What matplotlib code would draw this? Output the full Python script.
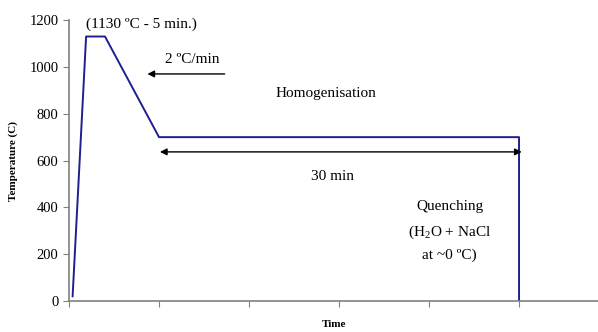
import matplotlib
matplotlib.use("Agg")
import matplotlib.pyplot as plt

plt.rcParams['font.family'] = ['Liberation Serif', 'DejaVu Serif']
plt.rcParams['mathtext.fontset'] = 'custom'
plt.rcParams['mathtext.rm'] = 'Liberation Serif'

# heat treatment profile (time in arbitrary units, temperature in C)
time = [0.04, 0.19, 0.40, 1.0, 5.0, 5.0]
temp = [20, 1130, 1130, 700, 700, 0]

y_ticks = [0, 200, 400, 600, 800, 1000, 1200]
x_ticks = [0, 1, 2, 3, 4, 5]

fig = plt.figure(figsize=(5.98, 3.32), dpi=100)
ax = fig.add_axes([0.1154, 0.0934, 0.885, 0.846])

ax.plot(time, temp, color='#1f1f8f', lw=1.4)

ax.set_xlim(0, 5.88)
ax.set_ylim(0, 1200)
ax.set_yticks(y_ticks)
ax.set_xticks(x_ticks)
ax.set_xticklabels([])
for s in ['top', 'right']:
    ax.spines[s].set_visible(False)
for s in ['left', 'bottom']:
    ax.spines[s].set_color('#808080')
    ax.spines[s].set_linewidth(1.2)
ax.tick_params(colors='#808080', labelcolor='black', labelsize=10.5, length=4)

ax.set_ylabel('Temperature (C)', fontsize=8, fontweight='bold', labelpad=8)
ax.set_xlabel('Time', fontsize=8, fontweight='bold', labelpad=6)

# annotations
ax.text(0.81, 1183, '(1130 ºC - 5 min.)', ha='center', va='center', fontsize=11)
ax.annotate('', xy=(0.84, 970), xytext=(1.76, 970),
            arrowprops=dict(arrowstyle='-|>', color='black', lw=1, mutation_scale=10))
ax.text(1.37, 1030, '2 ºC/min', ha='center', va='center', fontsize=11)
ax.text(2.86, 885, 'Homogenisation', ha='center', va='center', fontsize=11)
ax.annotate('', xy=(1.01, 637), xytext=(5.03, 637),
            arrowprops=dict(arrowstyle='<|-|>', color='black', lw=1, mutation_scale=10,
                            shrinkA=0, shrinkB=0))
ax.text(2.93, 534, '30 min', ha='center', va='center', fontsize=11)
ax.text(4.23, 402, 'Quenching', ha='center', va='center', fontsize=11)
ax.text(4.23, 295, '(H$_2$O + NaCl', ha='center', va='center', fontsize=11)
ax.text(4.23, 197, 'at ~0 ºC)', ha='center', va='center', fontsize=11)

fig.savefig('out.png', dpi=100)
